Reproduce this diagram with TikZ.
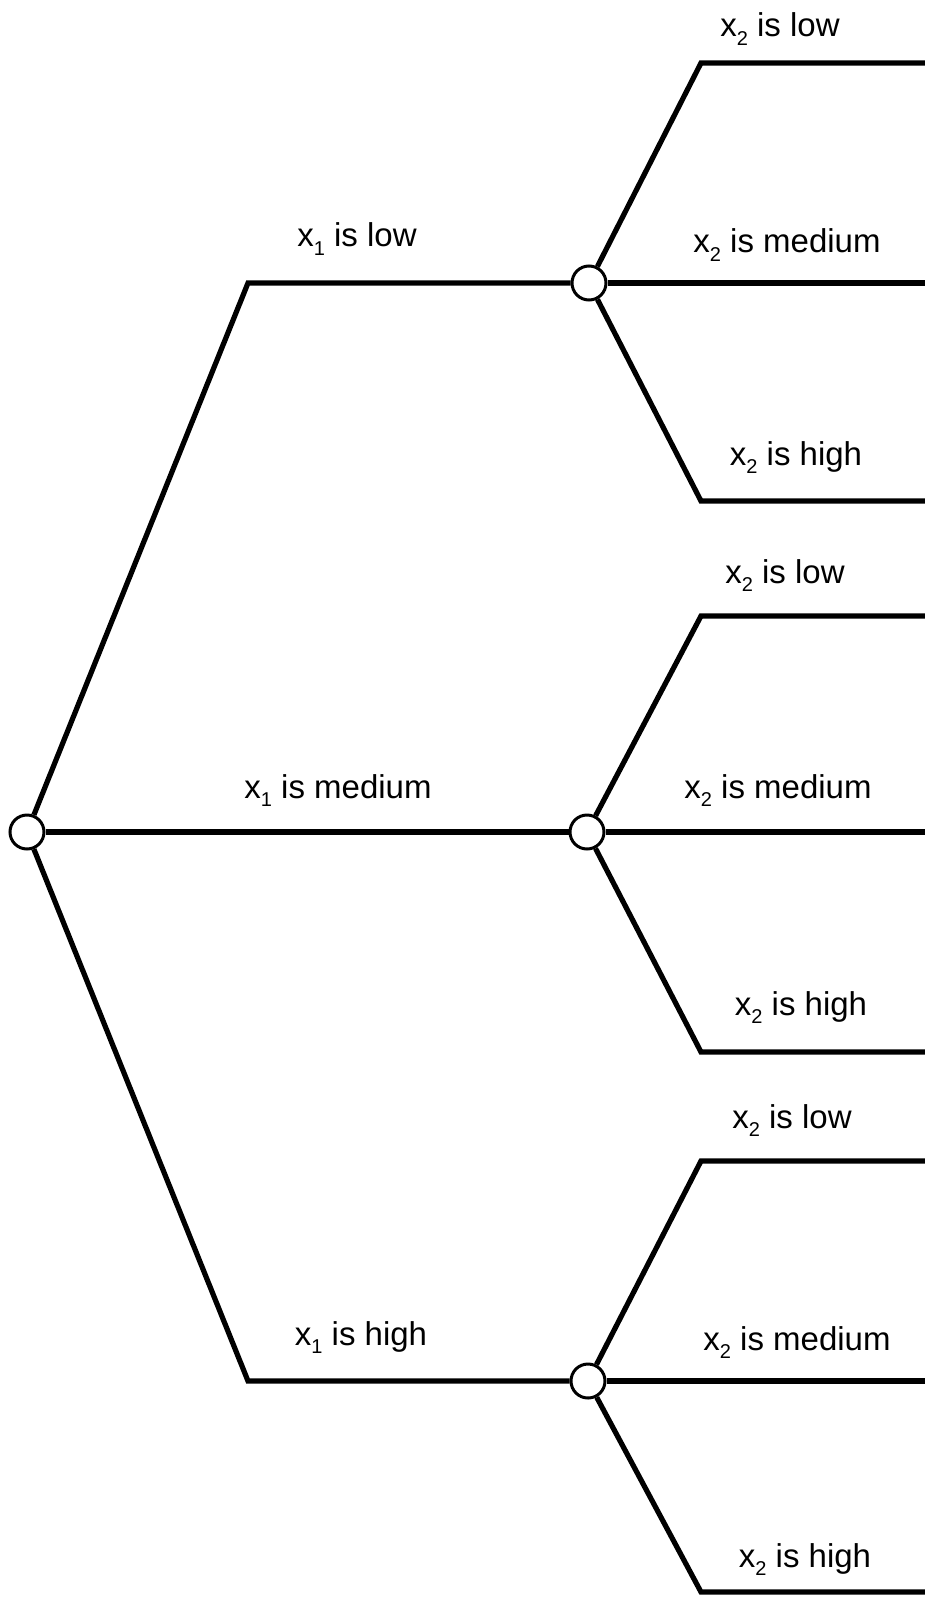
\documentclass[tikz,border=0pt]{standalone}
\usepackage{fontspec}
\setmainfont{Liberation Sans}
\newcommand{\xsub}[1]{x\raisebox{-0.26em}{\fontsize{20}{20}\selectfont #1}}
\begin{document}
\begin{tikzpicture}[x=1pt,y=-1pt,
  branch/.style={line width=5.2pt, line join=miter},
  dec/.style={circle, draw, line width=3pt, fill=white, minimum size=34pt, inner sep=0pt},
  lbl/.style={anchor=base, inner sep=0pt, font=\fontsize{33}{38}\selectfont}]
\useasboundingbox (0,0) rectangle (924,1597);
% decision nodes
\node[dec] (r) at (27,832) {};
\node[dec] (g1) at (589,283) {};
\node[dec] (g2) at (587,832) {};
\node[dec] (g3) at (588,1381) {};
% corners and free ends
\coordinate (c1) at (248,283);
\coordinate (c3) at (248,1381);
\coordinate (k11) at (701,63);   \coordinate (e11) at (934,63);
\coordinate (e12) at (934,283);
\coordinate (k13) at (701,501);  \coordinate (e13) at (934,501);
\coordinate (k21) at (701,616);  \coordinate (e21) at (934,616);
\coordinate (e22) at (934,832);
\coordinate (k23) at (701,1052); \coordinate (e23) at (934,1052);
\coordinate (k31) at (701,1161); \coordinate (e31) at (934,1161);
\coordinate (e32) at (934,1381);
\coordinate (k33) at (701,1592); \coordinate (e33) at (934,1592);
% first level
\draw[branch] (r) -- (c1) -- (g1);
\draw[branch] (r) -- (g2);
\draw[branch] (r) -- (c3) -- (g3);
% second level
\draw[branch] (g1) -- (k11) -- (e11);
\draw[branch] (g1) -- (e12);
\draw[branch] (g1) -- (k13) -- (e13);
\draw[branch] (g2) -- (k21) -- (e21);
\draw[branch] (g2) -- (e22);
\draw[branch] (g2) -- (k23) -- (e23);
\draw[branch] (g3) -- (k31) -- (e31);
\draw[branch] (g3) -- (e32);
\draw[branch] (g3) -- (k33) -- (e33);
% labels
\node[lbl] (l1) at (357,247) {\xsub{1} is low};
\node[lbl] (l2) at (338,798) {\xsub{1} is medium};
\node[lbl] (l3) at (361,1345) {\xsub{1} is high};
\node[lbl] (l11) at (780,37) {\xsub{2} is low};
\node[lbl] (l12) at (787,253) {\xsub{2} is medium};
\node[lbl] (l13) at (796,465) {\xsub{2} is high};
\node[lbl] (l21) at (785,583) {\xsub{2} is low};
\node[lbl] (l22) at (778,798) {\xsub{2} is medium};
\node[lbl] (l23) at (801,1015) {\xsub{2} is high};
\node[lbl] (l31) at (792,1128) {\xsub{2} is low};
\node[lbl] (l32) at (797,1350) {\xsub{2} is medium};
\node[lbl] (l33) at (805,1567) {\xsub{2} is high};
\end{tikzpicture}
\end{document}
